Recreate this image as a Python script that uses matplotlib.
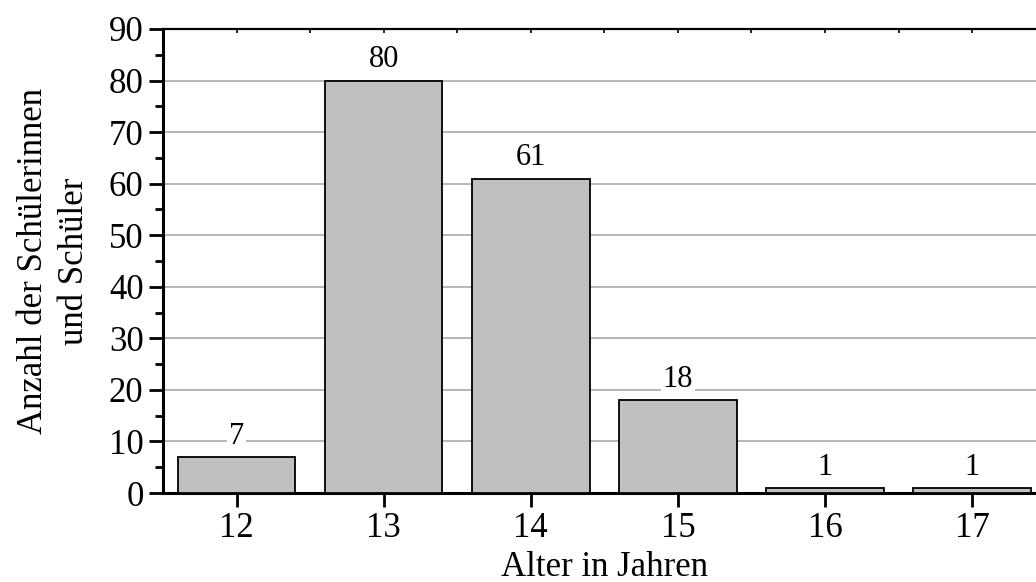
import numpy as np
import matplotlib.pyplot as plt
from matplotlib.ticker import MultipleLocator

ages = ["12", "13", "14", "15", "16", "17"]
counts = [7, 80, 61, 18, 1, 1]

plt.rcParams['font.family'] = ['Liberation Serif', 'DejaVu Serif']

fig = plt.figure(figsize=(10.36, 5.82), dpi=100)
ax = fig.add_axes([0.1573, 0.1529, 0.852, 0.7973])

x = np.arange(len(ages))
ax.bar(x, counts, width=0.8, color="#c0c0c0", edgecolor="black",
       linewidth=1.3, zorder=3)
for xi, c in zip(x, counts):
    ax.text(xi, c + 1.2, str(c), ha="center", va="bottom", fontsize=22,
            zorder=4, bbox=dict(facecolor="white", edgecolor="none", pad=1))

ax.set_xlim(-0.5, len(ages) - 0.5)
ax.set_ylim(0, 90)
ax.set_xticks(x)
ax.set_xticklabels(ages)
ax.yaxis.set_major_locator(MultipleLocator(10))
ax.yaxis.set_minor_locator(MultipleLocator(5))

ax.grid(axis="y", color="#aaaaaa", linewidth=1.2, zorder=0)
ax.set_axisbelow(True)

ax.tick_params(axis="both", which="major", labelsize=25, width=2, length=10,
               direction="out", pad=4)
ax.tick_params(axis="y", which="minor", width=2, length=6, direction="out")

ax.spines["left"].set_linewidth(2.2)
ax.spines["bottom"].set_linewidth(2.2)
ax.spines["top"].set_linewidth(1.6)
ax.spines["right"].set_visible(False)

# small marks along the top edge
top = ax.secondary_xaxis("top")
top.set_xticks(np.arange(-0.5, len(ages), 0.5))
top.tick_params(direction="in", length=3, width=1.2, labeltop=False)
top.spines["top"].set_visible(False)

ax.set_xlabel("Alter in Jahren", fontsize=25, labelpad=4)
ax.set_ylabel("Anzahl der Schülerinnen\nund Schüler", fontsize=25,
              labelpad=13, linespacing=1.3)

fig.savefig("out.png", dpi=100)
